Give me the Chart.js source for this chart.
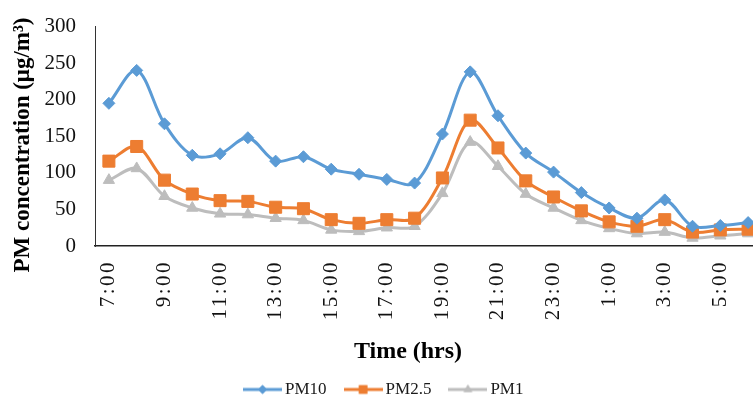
<!DOCTYPE html>
<html>
<head>
<meta charset="utf-8">
<script src="https://cdn.jsdelivr.net/npm/chart.js@4/dist/chart.umd.min.js"></script>
<style>
  html, body { margin: 0; padding: 0; overflow: hidden; background: #fff; }
  #wrap { width: 780px; height: 408px; }
  canvas { display: block; width: 780px; height: 408px; }
</style>
</head>
<body>
<div id="wrap"><canvas id="chart" width="780" height="408"></canvas></div>
<script>
// Hourly readings over one day, starting at 7:00
const hours = ['7:00', '8:00', '9:00', '10:00', '11:00', '12:00', '13:00', '14:00',
  '15:00', '16:00', '17:00', '18:00', '19:00', '20:00', '21:00', '22:00', '23:00',
  '0:00', '1:00', '2:00', '3:00', '4:00', '5:00', '6:00'];

const pm10 = [195, 240, 167, 124, 126, 148, 116, 122, 105, 98, 91, 86,
  153, 238, 178, 127, 101, 73, 52, 38, 63, 27, 28, 32];
const pm25 = [116, 136, 90, 71, 62, 61, 53, 51, 36, 31, 36, 38,
  93, 172, 134, 89, 67, 48, 33, 27, 36, 19, 22, 23];
const pm1 = [90, 106, 68, 52, 44, 43, 38, 35, 22, 20, 25, 27,
  72, 142, 109, 71, 52, 35, 24, 17, 19, 11, 14, 17];

const seriesNames = ['PM10', 'PM2.5', 'PM1'];
const yAxisTitle = 'PM concentration (\u03bcg/m\u00b3)';
const xAxisTitle = 'Time (hrs)';

const colors = ['#5B9BD5', '#ED7D31', '#BDBDBD'];
const markers = ['rectRot', 'rect', 'triangle'];
const markerRadius = [6, 8.5, 6.5];
const legendMarkerRadius = [4.5, 6, 5];

const SERIF = '"Liberation Serif", "Times New Roman", serif';
Chart.defaults.font.family = SERIF;
Chart.defaults.color = '#000';

// Small line-plus-marker swatches for the legend
function makeSwatch(i) {
  const c = document.createElement('canvas');
  c.width = 39; c.height = 14;
  const g = c.getContext('2d');
  g.strokeStyle = colors[i];
  g.lineWidth = 3;
  g.beginPath(); g.moveTo(0, 7); g.lineTo(39, 7); g.stroke();
  g.fillStyle = colors[i];
  Chart.helpers.drawPoint(g, {
    pointStyle: markers[i], radius: legendMarkerRadius[i], borderWidth: 0, rotation: 0
  }, 19.5, 7);
  g.fill();
  return c;
}
const swatches = [0, 1, 2].map(makeSwatch);

function series(i, data) {
  return {
    label: seriesNames[i],
    data: data,
    borderColor: colors[i],
    backgroundColor: colors[i],
    borderWidth: 3,
    tension: 0.33,
    pointStyle: markers[i],
    pointRadius: markerRadius[i],
    pointHoverRadius: markerRadius[i],
    pointBackgroundColor: colors[i],
    pointBorderColor: colors[i],
    pointBorderWidth: 1,
    fill: false
  };
}

// Axis titles and spaced-out hour labels
const decorations = {
  id: 'decorations',
  beforeDraw(chart) {
    const sc = chart.scales.x;
    if (!sc._spacedLabels) {
      const base = sc.drawLabels;
      sc.drawLabels = function (area) {
        const ctx = this.ctx;
        const prev = ctx.letterSpacing;
        ctx.letterSpacing = '2.5px';
        base.call(this, area);
        ctx.letterSpacing = prev;
      };
      sc._spacedLabels = true;
    }
  },
  afterDraw(chart) {
    const {ctx} = chart;
    ctx.save();
    ctx.fillStyle = '#000';
    ctx.textAlign = 'center';
    ctx.textBaseline = 'alphabetic';
    ctx.font = 'bold 24px ' + SERIF;
    ctx.fillText(xAxisTitle, 408, 358);
    ctx.translate(28.5, 145);
    ctx.rotate(-Math.PI / 2);
    ctx.font = 'bold 23px ' + SERIF;
    ctx.fillText(yAxisTitle, 0, 0);
    ctx.restore();
  }
};

// The canvas is wider than the page, so the plot runs past the visible right edge
new Chart(document.getElementById('chart'), {
  type: 'line',
  data: {
    labels: hours,
    datasets: [series(0, pm10), series(1, pm25), series(2, pm1)]
  },
  options: {
    responsive: false,
    animation: false,
    layout: { padding: { top: 26.5, right: 18, left: 10, bottom: 0 } },
    plugins: {
      tooltip: { enabled: false },
      legend: {
        position: 'bottom',
        labels: {
          usePointStyle: true,
          pointStyleWidth: 28,
          padding: 22.5,
          color: '#1a1a1a',
          font: { size: 17 },
          generateLabels(chart) {
            const items = Chart.defaults.plugins.legend.labels.generateLabels(chart);
            items.forEach((it, i) => { it.pointStyle = swatches[i]; });
            return items;
          }
        }
      }
    },
    scales: {
      x: {
        type: 'category',
        offset: true,
        grid: { display: false, drawTicks: false, tickLength: 0 },
        border: { display: true, color: '#222', width: 1.5 },
        ticks: {
          autoSkip: false,
          minRotation: 90,
          maxRotation: 90,
          padding: 14,
          color: '#111',
          font: { size: 21 },
          callback: (v, i) => (i % 2 === 0 ? hours[i] : '')
        },
        afterFit(scale) {
          scale.height = 112.5;
          scale.paddingLeft = 0;
          scale.paddingRight = 0;
        }
      },
      y: {
        min: 0,
        max: 300,
        grid: { display: false, drawTicks: false, tickLength: 0 },
        border: { display: true, color: '#333', width: 1 },
        ticks: {
          stepSize: 50,
          padding: 19,
          color: '#111',
          font: { size: 21 }
        },
        afterFit(scale) {
          scale.width = 85;
          scale.paddingTop = 0;
          scale.paddingBottom = 0;
        }
      }
    }
  },
  plugins: [decorations]
});
</script>
</body>
</html>
